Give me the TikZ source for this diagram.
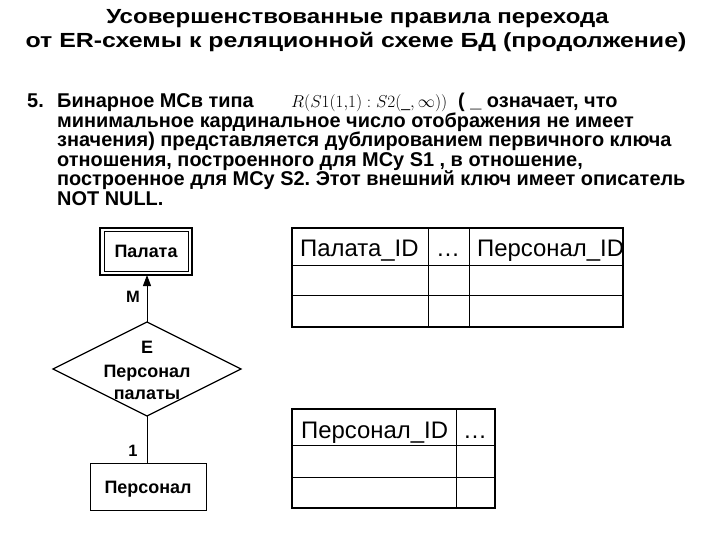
\documentclass[tikz,border=0pt]{standalone}
\usepackage{fontspec}
\setmainfont{Liberation Sans}
\usetikzlibrary{arrows.meta}
\frenchspacing
\tikzset{
  ttl/.style={anchor=base, inner sep=0, font=\fontsize{20.5}{24}\selectfont\bfseries},
  body/.style={anchor=base west, inner sep=0, font=\fontsize{20}{22}\selectfont\bfseries},
  erlbl/.style={inner sep=0, font=\fontsize{18}{20}\selectfont\bfseries},
  cardlbl/.style={inner sep=0, font=\fontsize{16.5}{18}\selectfont\bfseries},
  cell/.style={anchor=base west, inner sep=0, font=\fontsize{24}{26}\selectfont},
  thinline/.style={line width=1bp},
  outline/.style={line width=2bp},
}
\begin{document}
\begin{tikzpicture}[x=1bp,y=-1bp]
\useasboundingbox (0,0) rectangle (720,540);
% title
\node[ttl] (t1) at (357.5,24) {\scalebox{1.177}[1]{Усовершенствованные правила перехода}};
\node[ttl] (t2) at (356,48) {\scalebox{1.219}[1]{от ER-схемы к реляционной схеме БД (продолжение)}};
% body
\node[body] (n5) at (27,108) {5.};
\node[body] (b1) at (57,108) {Бинарное МСв типа};
\node[anchor=base west, inner sep=0, font=\fontsize{15.9}{17}\selectfont] (f1) at (291,108) {$R(S1(1{,}1):S2(\mbox{\_},\infty))$};
\node[body] (b1b) at (458,108) {( \_ означает, что};
\node[body] (b2) at (57,127.5) {минимальное кардинальное число отображения не имеет};
\node[body] (b3) at (57,147) {значения) представляется дублированием первичного ключа};
\node[body] (b4) at (57,166.5) {отношения, построенного для МСу S1 , в отношение,};
\node[body] (b5) at (57,186) {построенное для МСу S2. Этот внешний ключ имеет описатель};
\node[body] (b6) at (57,205.5) {NOT NULL.};
% ER diagram
\draw[line width=2.5bp] (100,228) rectangle (192,275);
\draw[thinline] (104,232) rectangle (188,271);
\node[erlbl, anchor=base] (palata) at (146,257.5) {Палата};
\coordinate (pbot) at (147,275);
\draw[thinline] (90,463) rectangle (206,510);
\node[erlbl, anchor=base] (pers) at (148,493.5) {Персонал};
\coordinate (qtop) at (147,463);
\coordinate (dtop) at (147,322);
\coordinate (dleft) at (53,369);
\coordinate (dbot) at (147,416);
\coordinate (dright) at (241,369);
\draw[line width=1.2bp] (dtop) -- (dright) -- (dbot) -- (dleft) -- cycle;
\node[erlbl, anchor=base] (e) at (147,353) {Е};
\node[erlbl, anchor=base] (r1) at (147,377) {Персонал};
\node[erlbl, anchor=base] (r2) at (147,399) {палаты};
\draw[thinline, -{Triangle[length=11bp,width=8bp]}] (dtop) -- (pbot);
\draw[thinline] (dbot) -- (qtop);
\node[cardlbl] (m) at (133,297) {M};
\node[cardlbl] (one) at (133,451) {1};
% table 1
\draw[thinline] (292,265) -- (623,265) (292,295) -- (623,295) (428,228) -- (428,327) (469,228) -- (469,327);
\draw[outline] (292,228) rectangle (623,327);
\node[cell] (c11) at (300,257) {Палата\_ID};
\node[cell] (c12) at (436,257) {…};
\node[cell] (c13) at (477,257) {Персонал\_ID};
% table 2
\draw[thinline] (292,445) -- (495,445) (292,477) -- (495,477) (456,409) -- (456,508);
\draw[outline] (292,409) rectangle (495,508);
\node[cell] (d11) at (301,438) {Персонал\_ID};
\node[cell] (d12) at (463,438) {…};
\end{tikzpicture}
\end{document}
